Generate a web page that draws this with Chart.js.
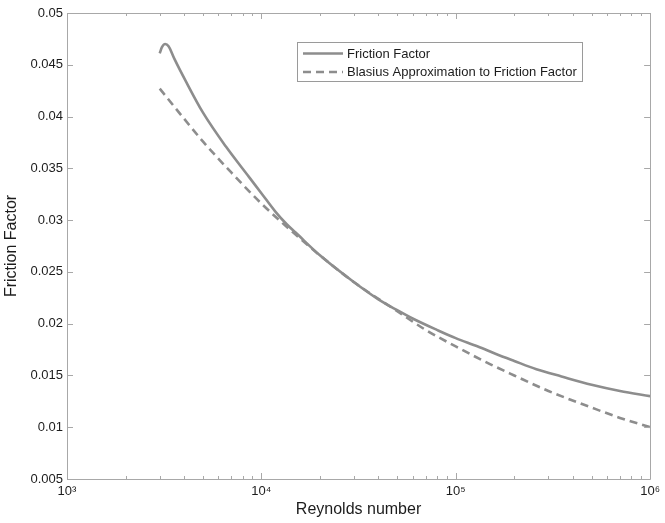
<!DOCTYPE html>
<html><head><meta charset="utf-8">
<script src="https://cdn.jsdelivr.net/npm/chart.js@4/dist/chart.umd.min.js"></script>
<style>html,body{margin:0;padding:0;background:#fff;}</style>
</head><body>
<canvas id="c" width="665" height="523"></canvas>
<script>
// ---- data ----
const reynoldsFriction = [3000, 3080, 3200, 3330, 3565, 4090, 5000, 6570, 8610, 10000, 11830, 13500, 15000, 20000, 30000, 40000, 50000, 60000, 80000, 100000, 130000, 160000, 200000, 260000, 350000, 500000, 700000, 1000000];
const frictionFactor   = [0.0461, 0.0467, 0.0470, 0.0468, 0.0456, 0.0434, 0.0404, 0.0371, 0.0342, 0.0326, 0.0308, 0.0296, 0.0288, 0.0266, 0.0240, 0.02235, 0.0213, 0.0205, 0.0194, 0.0186, 0.0178, 0.0171, 0.0164, 0.0156, 0.0149, 0.0141, 0.0135, 0.0130];
const reynoldsBlasius  = [3000, 4000, 5000, 7000, 10000, 15000, 20000, 30000, 50000, 70000, 100000, 150000, 200000, 300000, 500000, 700000, 1000000];
const blasiusFactor    = [0.0427, 0.0398, 0.0376, 0.0346, 0.0316, 0.0286, 0.0266, 0.0240, 0.0212, 0.0194, 0.0178, 0.0161, 0.0150, 0.0135, 0.0119, 0.0109, 0.0100];
const seriesLabels = ['Friction Factor', 'Blasius Approximation to Friction Factor'];
const xTickValues = [1000, 10000, 100000, 1000000];
const xTickLabels = ['10³', '10⁴', '10⁵', '10⁶'];
const yTickValues = [0.005, 0.01, 0.015, 0.02, 0.025, 0.03, 0.035, 0.04, 0.045, 0.05];
const yTickLabels = ['0.005', '0.01', '0.015', '0.02', '0.025', '0.03', '0.035', '0.04', '0.045', '0.05'];
const xTitle = 'Reynolds number';
const yTitle = 'Friction Factor';

const LINE = '#8d8d8d';
const AXIS = '#a8a8a8';
const TEXT = '#1c1c1c';
const FONT = '"Liberation Sans", Arial, sans-serif';

const boxPlugin = {
  id: 'matlabBox',
  afterDatasetsDraw(chart) {
    const {ctx, chartArea: a, scales: {x, y}} = chart;
    ctx.save();
    ctx.strokeStyle = AXIS;
    ctx.lineWidth = 1;
    ctx.beginPath();
    ctx.rect(Math.round(a.left) + 0.5, Math.round(a.top) + 0.5, Math.round(a.right - a.left), Math.round(a.bottom - a.top));
    ctx.stroke();
    ctx.beginPath();
    for (let d = 1000; d < 1e6 + 1; d *= 10) {
      for (let m = 1; m <= 9; m++) {
        const v = d * m;
        if (v > 1e6) break;
        const px = Math.round(x.getPixelForValue(v)) + 0.5;
        const len = (m === 1) ? 6 : 3;
        ctx.moveTo(px, a.bottom); ctx.lineTo(px, a.bottom - len);
        ctx.moveTo(px, a.top); ctx.lineTo(px, a.top + len);
      }
    }
    yTickValues.forEach(v => {
      const py = Math.round(y.getPixelForValue(v)) + 0.5;
      ctx.moveTo(a.left, py); ctx.lineTo(a.left + 6, py);
      ctx.moveTo(a.right, py); ctx.lineTo(a.right - 6, py);
    });
    ctx.stroke();

    // legend box
    const lx = 297, ly = 42, lw = 285, lh = 39;
    ctx.fillStyle = '#fff';
    ctx.fillRect(lx, ly, lw, lh);
    ctx.strokeStyle = '#9a9a9a';
    ctx.strokeRect(lx + 0.5, ly + 0.5, lw, lh);
    ctx.font = '13px ' + FONT;
    ctx.textBaseline = 'middle';
    ctx.textAlign = 'left';
    chart.data.datasets.forEach((ds, i) => {
      const yy = ly + 11.5 + i * 18.5;
      ctx.strokeStyle = ds.borderColor;
      ctx.lineWidth = ds.borderWidth;
      ctx.setLineDash(ds.borderDash || []);
      ctx.beginPath();
      ctx.moveTo(lx + 6, yy); ctx.lineTo(lx + 46, yy);
      ctx.stroke();
      ctx.setLineDash([]);
      ctx.fillStyle = TEXT;
      ctx.fillText(ds.label, lx + 50, yy + 0.5);
    });
    ctx.restore();
  }
};

new Chart(document.getElementById('c'), {
  type: 'line',
  data: {
    datasets: [
      { label: seriesLabels[0], data: reynoldsFriction.map((r, i) => ({x: r, y: frictionFactor[i]})),
        borderColor: LINE, borderWidth: 2.6, pointRadius: 0, fill: false, cubicInterpolationMode: 'monotone' },
      { label: seriesLabels[1], data: reynoldsBlasius.map((r, i) => ({x: r, y: blasiusFactor[i]})),
        borderColor: LINE, borderWidth: 2.6, borderDash: [8, 5], pointRadius: 0, fill: false, cubicInterpolationMode: 'monotone' }
    ]
  },
  options: {
    responsive: false,
    animation: false,
    devicePixelRatio: 1,
    layout: { padding: { left: 0, right: 11, top: 13, bottom: 1 } },
    plugins: { legend: { display: false }, tooltip: { enabled: false } },
    scales: {
      x: {
        type: 'logarithmic', min: 1000, max: 1000000,
        afterBuildTicks: s => { s.ticks = xTickValues.map(v => ({value: v})); },
        afterFit: s => { s.height = 43; },
        grid: { display: false, drawTicks: false },
        border: { display: false },
        ticks: { autoSkip: false, maxRotation: 0, padding: 5, color: TEXT, font: { family: FONT, size: 13 },
          callback: (v, i) => xTickLabels[i] },
        title: { display: true, text: xTitle, color: TEXT, font: { family: FONT, size: 16 }, padding: { top: 2, bottom: 3 } }
      },
      y: {
        type: 'linear', min: 0.005, max: 0.05,
        afterBuildTicks: s => { s.ticks = yTickValues.map(v => ({value: v})); },
        afterFit: s => { s.width = 67; },
        grid: { display: false, drawTicks: false },
        border: { display: false },
        ticks: { autoSkip: false, padding: 4, color: TEXT, font: { family: FONT, size: 13 },
          callback: (v, i) => yTickLabels[i] },
        title: { display: true, text: yTitle, color: TEXT, font: { family: FONT, size: 16 }, padding: { top: 2, bottom: 2 } }
      }
    }
  },
  plugins: [boxPlugin]
});
</script>
</body></html>
